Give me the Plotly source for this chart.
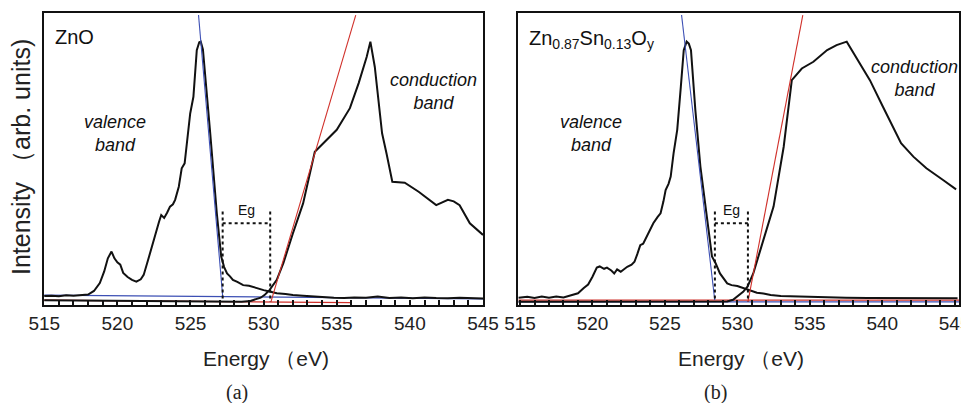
import plotly.graph_objects as go

# ---------------- data: panel (a) ZnO ----------------
a_val_E = [515.0, 515.5, 516.0, 516.5, 517.0, 517.5, 518.0, 518.4, 518.8, 519.1, 519.35, 519.6, 519.8,
           520.0, 520.2, 520.4, 520.7, 521.0, 521.3, 521.6, 521.8, 522.1, 522.35, 522.6, 522.85, 523.0,
           523.2, 523.4, 523.6, 523.8, 523.95, 524.2, 524.4, 524.6, 524.75, 524.98, 525.2, 525.43, 525.6,
           525.7, 525.85, 526.0, 526.35, 526.8, 527.1, 527.3, 527.5, 527.7, 527.9, 528.2, 528.6, 529.0,
           529.3, 529.7, 530.0, 530.4, 530.9, 531.5, 532.0, 532.7, 533.4, 534.1, 534.8, 535.5, 536.2,
           537.0, 537.8, 538.6, 539.4, 540.2, 541.0, 541.8, 542.6, 543.4, 544.2, 545.0]
a_val_I = [3.1, 3.2, 3.0, 3.3, 3.2, 3.5, 3.6, 4.8, 7.5, 11.5, 16.0, 18.3, 16.0,
           14.6, 13.8, 11.0, 9.6, 8.6, 8.0, 8.8, 10.3, 15.4, 20.0, 24.0, 28.5, 30.8,
           29.8, 31.6, 33.7, 34.5, 36.0, 40.5, 46.8, 48.5, 55.4, 65.6, 71.3, 87.3, 90.0,
           90.2, 87.5, 79.3, 58.8, 31.4, 16.6, 13.0, 10.8, 9.8, 8.6, 7.9, 6.8, 6.6,
           6.1, 5.6, 5.1, 4.6, 4.0, 3.8, 3.4, 3.2, 2.9, 2.7, 2.5, 2.4, 2.6,
           2.5, 2.9, 2.4, 2.6, 2.3, 2.6, 2.4, 2.3, 2.5, 2.4, 2.2]
a_con_E = [515.0, 518.0, 521.0, 524.0, 527.0, 528.5, 529.1, 529.5, 529.8, 530.1, 530.4, 530.9, 531.35,
           532.0, 532.7, 533.5, 534.3, 535.0, 535.9, 536.5, 537.05, 537.3, 537.6, 538.1, 538.4, 538.8,
           539.65, 540.6, 541.8, 542.6, 543.0, 543.4, 544.1, 545.0]
a_con_I = [1.6, 1.5, 1.4, 1.3, 1.2, 1.1, 1.4, 1.9, 2.5, 3.6, 5.1, 8.6, 14.3,
           24.5, 34.8, 52.5, 56.5, 60.0, 67.4, 76.0, 85.0, 90.2, 81.6, 58.8, 52.0, 42.2,
           41.9, 38.8, 34.2, 36.0, 35.5, 34.2, 28.0, 24.0]
a_vfit_E = [525.55, 527.2]
a_vfit_I = [99.3, 3.1]
a_vbase_E = [515.0, 545.0]
a_vbase_I = [3.4, 2.1]
a_cfit_E = [530.5, 536.3]
a_cfit_I = [1.1, 99.3]
a_cbase_E = [515.0, 536.0]
a_cbase_I = [1.7, 0.8]
a_eg = [527.2, 530.45]

# ---------------- data: panel (b) Zn0.87Sn0.13Oy ----------------
b_val_E = [514.9, 515.5, 516.0, 516.5, 517.0, 517.5, 518.0, 518.5, 519.0, 519.4, 519.7, 520.0, 520.3,
           520.5, 520.8, 521.0, 521.3, 521.5, 521.7, 521.95, 522.2, 522.4, 522.7, 522.9, 523.1, 523.3,
           523.5, 523.8, 524.0, 524.2, 524.5, 524.7, 524.9, 525.05, 525.25, 525.4, 525.6, 525.85, 526.1,
           526.3, 526.5, 526.65, 526.8, 527.1, 527.45, 527.9, 528.25, 528.5, 528.8, 529.3, 529.6, 530.0,
           530.3, 530.7, 531.0, 531.35, 531.8, 532.3, 533.0, 534.1, 535.0, 536.0, 537.5, 539.0, 541.0,
           543.0, 545.2]
b_val_I = [2.5, 2.8, 2.4, 2.9, 2.5, 2.9, 2.6, 3.2, 4.0, 5.8, 7.0, 9.7, 12.8,
           13.2, 12.4, 12.8, 11.8, 10.8, 12.2, 11.4, 12.3, 13.1, 13.8, 14.8, 17.5, 20.5,
           21.0, 24.0, 25.8, 28.0, 30.2, 31.4, 35.5, 39.4, 41.5, 44.0, 52.0, 60.0, 74.8,
           87.3, 90.2, 89.5, 87.3, 66.8, 47.4, 29.0, 16.6, 14.3, 10.8, 7.4, 6.8, 6.5,
           6.0, 5.1, 4.8, 4.2, 3.9, 3.4, 3.1, 2.9, 2.7, 2.6, 2.5, 2.4, 2.3,
           2.3, 2.3]
b_con_E = [514.9, 520.0, 525.0, 529.3, 529.7, 530.0, 530.4, 530.7, 531.1, 531.8, 532.5, 533.2, 533.76,
           534.45, 535.25, 536.2, 536.85, 537.55, 538.2, 539.15, 540.05, 541.3, 542.15, 543.05, 544.2, 545.1]
b_con_I = [1.1, 1.1, 1.1, 1.2, 1.8, 2.9, 4.5, 6.3, 10.8, 22.3, 33.7, 54.2, 77.0,
           81.0, 83.3, 87.3, 89.0, 90.2, 85.0, 77.0, 67.9, 55.4, 50.8, 46.8, 42.8, 39.6]
b_vfit_E = [526.15, 528.44]
b_vfit_I = [99.3, 1.7]
b_vbase_E = [514.9, 545.3]
b_vbase_I = [1.1, 1.1]
b_cfit_E = [530.73, 534.52]
b_cfit_I = [1.1, 99.3]
b_cbase_E = [514.9, 545.3]
b_cbase_I = [1.7, 1.7]
b_eg = [528.45, 530.73]

tick_vals = [515, 520, 525, 530, 535, 540, 545]
tick_text = ["515", "520", "525", "530", "535", "540", "545"]

# ---------------- figure ----------------
FONT = "Liberation Sans Narrow, Arial Narrow, Liberation Sans, Arial, sans-serif"
BLUE = "#3c4fb4"
RED = "#d0302a"
BLACK = "#111111"

W, H = 969, 403
OFF = 8  # page body margin


def px(xp):
    return (xp - OFF) / W


def py(yp):
    return (H - (yp - OFF)) / H


fig = go.Figure()


def add_panel(xa, ya, val_E, val_I, con_E, con_I, vfit_E, vfit_I, vbase_E, vbase_I,
              cfit_E, cfit_I, cbase_E, cbase_I, eg):
    kw = dict(xaxis=xa, yaxis=ya, mode="lines", showlegend=False, hoverinfo="skip")
    fig.add_trace(go.Scatter(x=cbase_E, y=cbase_I, line=dict(color=RED, width=1.3), **kw))
    fig.add_trace(go.Scatter(x=vbase_E, y=vbase_I, line=dict(color=BLUE, width=1.3), **kw))
    fig.add_trace(go.Scatter(x=val_E, y=val_I, line=dict(color=BLACK, width=2), **kw))
    fig.add_trace(go.Scatter(x=con_E, y=con_I, line=dict(color=BLACK, width=2), **kw))
    fig.add_trace(go.Scatter(x=vfit_E, y=vfit_I, line=dict(color=BLUE, width=1.1), **kw))
    fig.add_trace(go.Scatter(x=cfit_E, y=cfit_I, line=dict(color=RED, width=1.1), **kw))
    dot = dict(color=BLACK, width=2, dash="dot")
    fig.add_trace(go.Scatter(x=[eg[0], eg[0]], y=[32, 1.1], line=dot, **kw))
    fig.add_trace(go.Scatter(x=[eg[1], eg[1]], y=[32, 1.1], line=dot, **kw))
    fig.add_trace(go.Scatter(x=[eg[0], eg[1]], y=[28, 28], line=dot, **kw))


add_panel("x", "y", a_val_E, a_val_I, a_con_E, a_con_I, a_vfit_E, a_vfit_I, a_vbase_E, a_vbase_I,
          a_cfit_E, a_cfit_I, a_cbase_E, a_cbase_I, a_eg)
add_panel("x2", "y2", b_val_E, b_val_I, b_con_E, b_con_I, b_vfit_E, b_vfit_I, b_vbase_E, b_vbase_I,
          b_cfit_E, b_cfit_I, b_cbase_E, b_cbase_I, b_eg)

ydom = [py(305), py(13)]
xcommon = dict(tickmode="array", tickvals=tick_vals, ticktext=tick_text,
               ticks="inside", ticklen=5, tickwidth=1.5, tickcolor=BLACK,
               minor=dict(dtick=1, ticks="inside", ticklen=5, tickwidth=1.5, tickcolor=BLACK),
               showline=True, mirror=True, linewidth=2, linecolor=BLACK, showgrid=False,
               zeroline=False, tickfont=dict(family=FONT, size=19, color="#222222"),
               fixedrange=True, automargin=False)
ycommon = dict(range=[0, 100], showticklabels=False, ticks="", showline=True, mirror=True,
               linewidth=2, linecolor=BLACK, showgrid=False, zeroline=False, domain=ydom,
               automargin=False, fixedrange=True)

fig.update_layout(
    width=W, height=H, margin=dict(l=0, r=0, t=0, b=0, autoexpand=False),
    paper_bgcolor="white", plot_bgcolor="white",
    xaxis=dict(domain=[px(43.5), px(483)], range=[514.95, 545.0], anchor="y", **xcommon),
    yaxis=dict(anchor="x", **ycommon),
    xaxis2=dict(domain=[px(518), px(959)], range=[514.86, 545.3], anchor="y2", **xcommon),
    yaxis2=dict(anchor="x2", **ycommon),
)

ann = []
ital = dict(family=FONT, size=18, color=BLACK)
# panel (a) texts
ann.append(dict(x=515.6, y=91.8, xref="x", yref="y", text="ZnO", showarrow=False, xanchor="left",
                font=dict(family=FONT, size=20, color=BLACK)))
ann.append(dict(x=519.85, y=58.7, xref="x", yref="y", text="<i>valence<br>band</i>", showarrow=False,
                font=ital))
ann.append(dict(x=541.6, y=73, xref="x", yref="y", text="<i>conduction<br>band</i>", showarrow=False,
                font=ital))
ann.append(dict(x=528.8, y=32.5, xref="x", yref="y", text="Eg", showarrow=False,
                font=dict(family=FONT, size=14, color=BLACK)))
# panel (b) texts
ann.append(dict(x=515.5, y=91.0, xref="x2", yref="y2",
                text="Zn<sub>0.87</sub>Sn<sub>0.13</sub>O<sub>y</sub>", showarrow=False,
                xanchor="left", font=dict(family=FONT, size=20, color=BLACK)))
ann.append(dict(x=519.9, y=58.7, xref="x2", yref="y2", text="<i>valence<br>band</i>", showarrow=False,
                font=ital))
ann.append(dict(x=542.25, y=77.4, xref="x2", yref="y2", text="<i>conduction<br>band</i>",
                showarrow=False, font=ital))
ann.append(dict(x=529.6, y=32.5, xref="x2", yref="y2", text="Eg", showarrow=False,
                font=dict(family=FONT, size=14, color=BLACK)))
# titles
cm = dict(xref="paper", yref="paper", showarrow=False, xanchor="center", yanchor="middle")
ann.append(dict(x=px(21), y=py(157), text="Intensity （arb. units)", textangle=-90,
                font=dict(family=FONT, size=25, color="#222222"), **cm))
xt_font = dict(family=FONT, size=21, color="#222222")
ann.append(dict(x=px(266), y=py(358), text="Energy （eV)", font=xt_font, **cm))
ann.append(dict(x=px(741), y=py(358), text="Energy （eV)", font=xt_font, **cm))
serif = dict(family="Liberation Serif, Times New Roman, serif", size=20, color="#222222")
ann.append(dict(x=px(237), y=py(392), text="(a)", font=serif, **cm))
ann.append(dict(x=px(715), y=py(392), text="(b)", font=serif, **cm))
fig.update_layout(annotations=ann)

fig.write_html("out.html")
